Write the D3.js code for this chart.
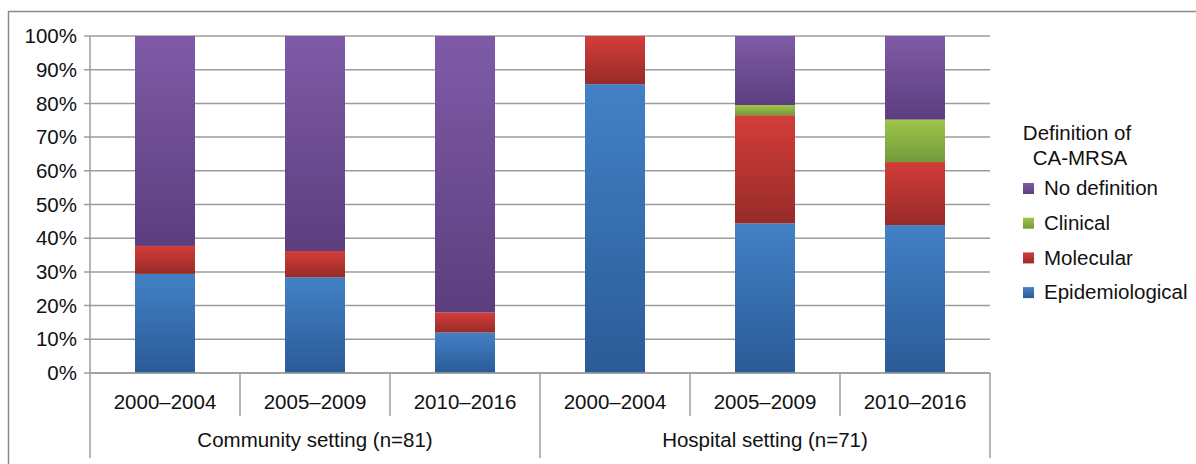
<!DOCTYPE html>
<html>
<head>
<meta charset="utf-8">
<script src="https://cdn.jsdelivr.net/npm/d3@7"></script>
<style>
  body { margin: 0; background: #fff; }
  text { font-family: "Liberation Sans", Arial, sans-serif; fill: #111; }
</style>
</head>
<body>
<div id="chart"></div>
<script>
// periods within each setting
const periods = ['2000\u20132004', '2005\u20132009', '2010\u20132016', '2000\u20132004', '2005\u20132009', '2010\u20132016']
const groups = ['Community setting (n=81)', 'Hospital setting (n=71)']
const seriesNames = ['Epidemiological', 'Molecular', 'Clinical', 'No definition']
// percentages
const epidemiological = [29.4, 28.4, 12.0, 85.7, 44.4, 43.9]
const molecular = [8.3, 7.8, 6.0, 14.3, 32.1, 18.7]
const clinical = [0, 0, 0, 0, 3.0, 12.6]
const noDefinition = [62.3, 63.8, 82.0, 0, 20.5, 24.8]
const yTicks = [0, 10, 20, 30, 40, 50, 60, 70, 80, 90, 100]

const colors = {
  'Epidemiological': ['#4281c6', '#2b5b97'],
  'Molecular': ['#d43d38', '#972b29'],
  'Clinical': ['#9dc64a', '#749a39'],
  'No definition': ['#7f5ba7', '#5c3e7e']
}

const width = 1196, height = 464
const plotLeft = 90, plotRight = 990, plotTop = 36, plotBottom = 373
const fs = '20.5px'

const svg = d3.select('#chart').append('svg')
  .attr('width', width)
  .attr('height', height)

const defs = svg.append('defs')
seriesNames.forEach((s, i) => {
  const g = defs.append('linearGradient')
    .attr('id', 'grad' + i)
    .attr('x1', 0).attr('y1', 0).attr('x2', 0).attr('y2', 1)
  g.append('stop').attr('offset', '0%').attr('stop-color', colors[s][0])
  g.append('stop').attr('offset', '100%').attr('stop-color', colors[s][1])
})

// outer frame
svg.append('path')
  .attr('d', `M8.5,${height} L8.5,11.5 L${width},11.5`)
  .attr('fill', 'none')
  .attr('stroke', '#8a8a8a')
  .attr('stroke-width', 1.5)

const x = d3.scaleBand()
  .domain(d3.range(periods.length))
  .range([plotLeft, plotRight])
  .paddingInner(0)
  .paddingOuter(0)

const y = d3.scaleLinear()
  .domain([0, 100])
  .range([plotBottom, plotTop])

// gridlines and ticks
svg.append('g').selectAll('line')
  .data(yTicks)
  .join('line')
  .attr('x1', plotLeft - 6)
  .attr('x2', plotRight)
  .attr('y1', d => y(d))
  .attr('y2', d => y(d))
  .attr('stroke', '#9c9c9c')
  .attr('stroke-width', 1.5)

svg.append('g').selectAll('text')
  .data(yTicks)
  .join('text')
  .attr('x', plotLeft - 13)
  .attr('y', d => y(d))
  .attr('dy', '0.35em')
  .attr('text-anchor', 'end')
  .style('font-size', fs)
  .text(d => d + '%')

// stacked bars
const table = periods.map((p, i) => ({
  i: i,
  'Epidemiological': epidemiological[i],
  'Molecular': molecular[i],
  'Clinical': clinical[i],
  'No definition': noDefinition[i]
}))
const stack = d3.stack().keys(seriesNames)(table)
const barW = x.bandwidth() * 0.4

stack.forEach((layer, k) => {
  svg.append('g').selectAll('rect')
    .data(layer.filter(d => d[1] - d[0] > 0))
    .join('rect')
    .attr('x', d => x(d.data.i) + (x.bandwidth() - barW) / 2)
    .attr('y', d => y(d[1]))
    .attr('width', barW)
    .attr('height', d => y(d[0]) - y(d[1]))
    .attr('fill', 'url(#grad' + k + ')')
})

// category axis
const axisG = svg.append('g')
axisG.append('line')
  .attr('x1', plotLeft).attr('x2', plotRight)
  .attr('y1', plotBottom).attr('y2', plotBottom)
  .attr('stroke', '#9c9c9c').attr('stroke-width', 1.5)

const seps = d3.range(periods.length + 1)
axisG.selectAll('.sep')
  .data(seps)
  .join('line')
  .attr('x1', d => plotLeft + d * x.bandwidth())
  .attr('x2', d => plotLeft + d * x.bandwidth())
  .attr('y1', d => d == 0 ? plotTop : plotBottom)
  .attr('y2', d => (d % 3 == 0) ? 458 : 416)
  .attr('stroke', '#9c9c9c')
  .attr('stroke-width', 1.5)

axisG.selectAll('.per')
  .data(periods)
  .join('text')
  .attr('x', (d, i) => x(i) + x.bandwidth() / 2)
  .attr('y', 402)
  .attr('dy', '0.35em')
  .attr('text-anchor', 'middle')
  .style('font-size', fs)
  .text(d => d)

axisG.selectAll('.grp')
  .data(groups)
  .join('text')
  .attr('x', (d, i) => plotLeft + (i * 3 + 1.5) * x.bandwidth())
  .attr('y', 440)
  .attr('dy', '0.35em')
  .attr('text-anchor', 'middle')
  .style('font-size', fs)
  .text(d => d)

// legend
const legend = svg.append('g')
legend.selectAll('.title')
  .data(['Definition of', 'CA-MRSA'])
  .join('text')
  .attr('x', (d, i) => i == 0 ? 1077 : 1080)
  .attr('y', (d, i) => 133 + i * 25)
  .attr('dy', '0.35em')
  .attr('text-anchor', 'middle')
  .style('font-size', fs)
  .text(d => d)

const legendOrder = seriesNames.slice().reverse()
const item = legend.selectAll('.item')
  .data(legendOrder)
  .join('g')
  .attr('transform', (d, i) => `translate(1023,${188 + i * 34.7})`)
item.append('rect')
  .attr('x', 0).attr('y', -5)
  .attr('width', 11).attr('height', 11)
  .attr('fill', d => 'url(#grad' + seriesNames.indexOf(d) + ')')
item.append('text')
  .attr('x', 21)
  .attr('y', 0)
  .attr('dy', '0.35em')
  .style('font-size', fs)
  .text(d => d)
</script>
</body>
</html>
